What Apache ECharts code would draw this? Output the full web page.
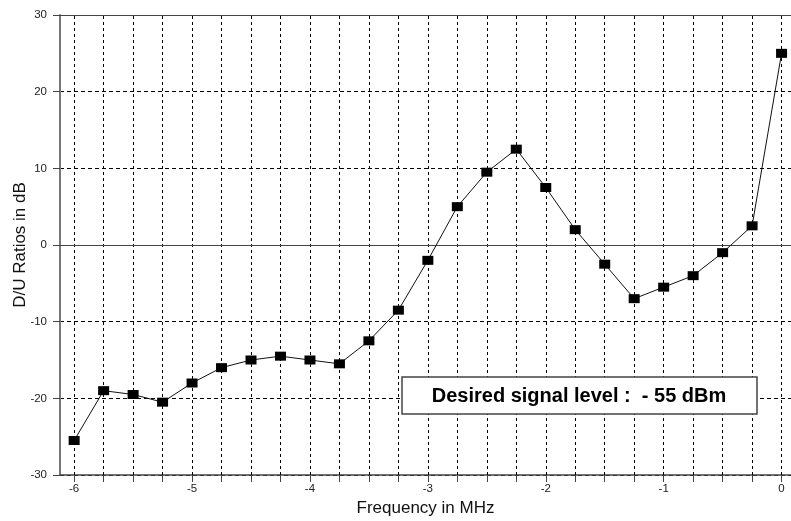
<!DOCTYPE html>
<html>
<head>
<meta charset="utf-8">
<script src="https://cdn.jsdelivr.net/npm/echarts@6/dist/echarts.min.js"></script>
<style>
  html, body { margin: 0; padding: 0; background: #fff; }
  #chart { width: 791px; height: 521px; }
</style>
</head>
<body>
<div id="chart"></div>
<script>
// Frequency offsets (MHz) and measured D/U ratios (dB)
const frequencies = [-6, -5.75, -5.5, -5.25, -5, -4.75, -4.5, -4.25, -4, -3.75, -3.5, -3.25,
                     -3, -2.75, -2.5, -2.25, -2, -1.75, -1.5, -1.25, -1, -0.75, -0.5, -0.25, 0];
const duRatios = [-25.5, -19, -19.5, -20.5, -18, -16, -15, -14.5, -15, -15.5, -12.5, -8.5,
                  -2, 5, 9.5, 12.5, 7.5, 2, -2.5, -7, -5.5, -4, -1, 2.5, 25];

// Axis ticks
const xLabelValues = [-6, -5, -4, -3, -2, -1, 0];
const xTickValues = frequencies;

const noteText = 'Desired signal level :  - 55 dBm';

const chart = echarts.init(document.getElementById('chart'), null, { renderer: 'canvas' });

const dashed = { color: '#000', width: 1, type: [3, 3] };
const font = 'Liberation Sans, Arial, sans-serif';

chart.setOption({
  animation: false,
  backgroundColor: '#fff',
  grid: { left: 60, right: 0, top: 15, bottom: 46, containLabel: false, outerBoundsMode: 'none' },
  xAxis: {
    type: 'value',
    min: -6.12,
    max: 0.08,
    name: 'Frequency in MHz',
    nameLocation: 'middle',
    nameGap: 25,
    nameTextStyle: { fontFamily: font, fontSize: 17, color: '#111' },
    axisLine: { show: true, onZero: false, lineStyle: { color: '#444', width: 1.5 } },
    axisTick: { show: true, customValues: xTickValues, length: 7, inside: false,
                lineStyle: { color: '#444', width: 1 } },
    axisLabel: { customValues: xLabelValues, fontFamily: font,
                 fontSize: 11.5, color: '#222', margin: 8 },
    splitLine: { show: false }
  },
  yAxis: {
    type: 'value',
    min: -30,
    max: 30,
    interval: 10,
    name: 'D/U Ratios in dB',
    nameLocation: 'middle',
    nameGap: 31,
    nameMoveOverlap: false,
    nameTextStyle: { fontFamily: font, fontSize: 17, color: '#111' },
    axisLine: { show: true, onZero: false, lineStyle: { color: '#777', width: 2 } },
    axisTick: { show: true, length: 7, lineStyle: { color: '#444', width: 1 } },
    axisLabel: { fontFamily: font, fontSize: 11.5, color: '#222', margin: 13 },
    splitLine: { show: true, lineStyle: { color: '#000', width: 1, type: [4, 3] } }
  },
  series: [
    {
      // vertical grid lines every 0.25 MHz
      type: 'line',
      data: [],
      silent: true,
      markLine: {
        silent: true,
        symbol: 'none',
        label: { show: false },
        lineStyle: dashed,
        data: xTickValues.map(v => ({ xAxis: v }))
      }
    },
    {
      // solid reference lines at 0 dB and at the top border
      type: 'line',
      data: [],
      silent: true,
      markLine: {
        silent: true,
        symbol: 'none',
        label: { show: false },
        lineStyle: { color: '#444', width: 1.2, type: 'solid' },
        data: [{ yAxis: 0 }, { yAxis: 30 }]
      }
    },
    {
      type: 'line',
      data: frequencies.map((f, i) => [f, duRatios[i]]),
      symbol: 'rect',
      symbolSize: [11, 9],
      showAllSymbol: true,
      itemStyle: { color: '#000' },
      lineStyle: { color: '#111', width: 1 },
      z: 5
    }
  ],
  graphic: [
    {
      type: 'rect',
      shape: { x: 402, y: 377, width: 355, height: 37 },
      style: { fill: '#fff', stroke: '#444', lineWidth: 1.5 },
      z: 100
    },
    {
      type: 'text',
      x: 579,
      y: 396,
      style: {
        text: noteText,
        font: 'bold 20px "Liberation Sans", Arial, sans-serif',
        fill: '#000',
        align: 'center',
        verticalAlign: 'middle'
      },
      z: 101
    }
  ]
});
</script>
</body>
</html>
